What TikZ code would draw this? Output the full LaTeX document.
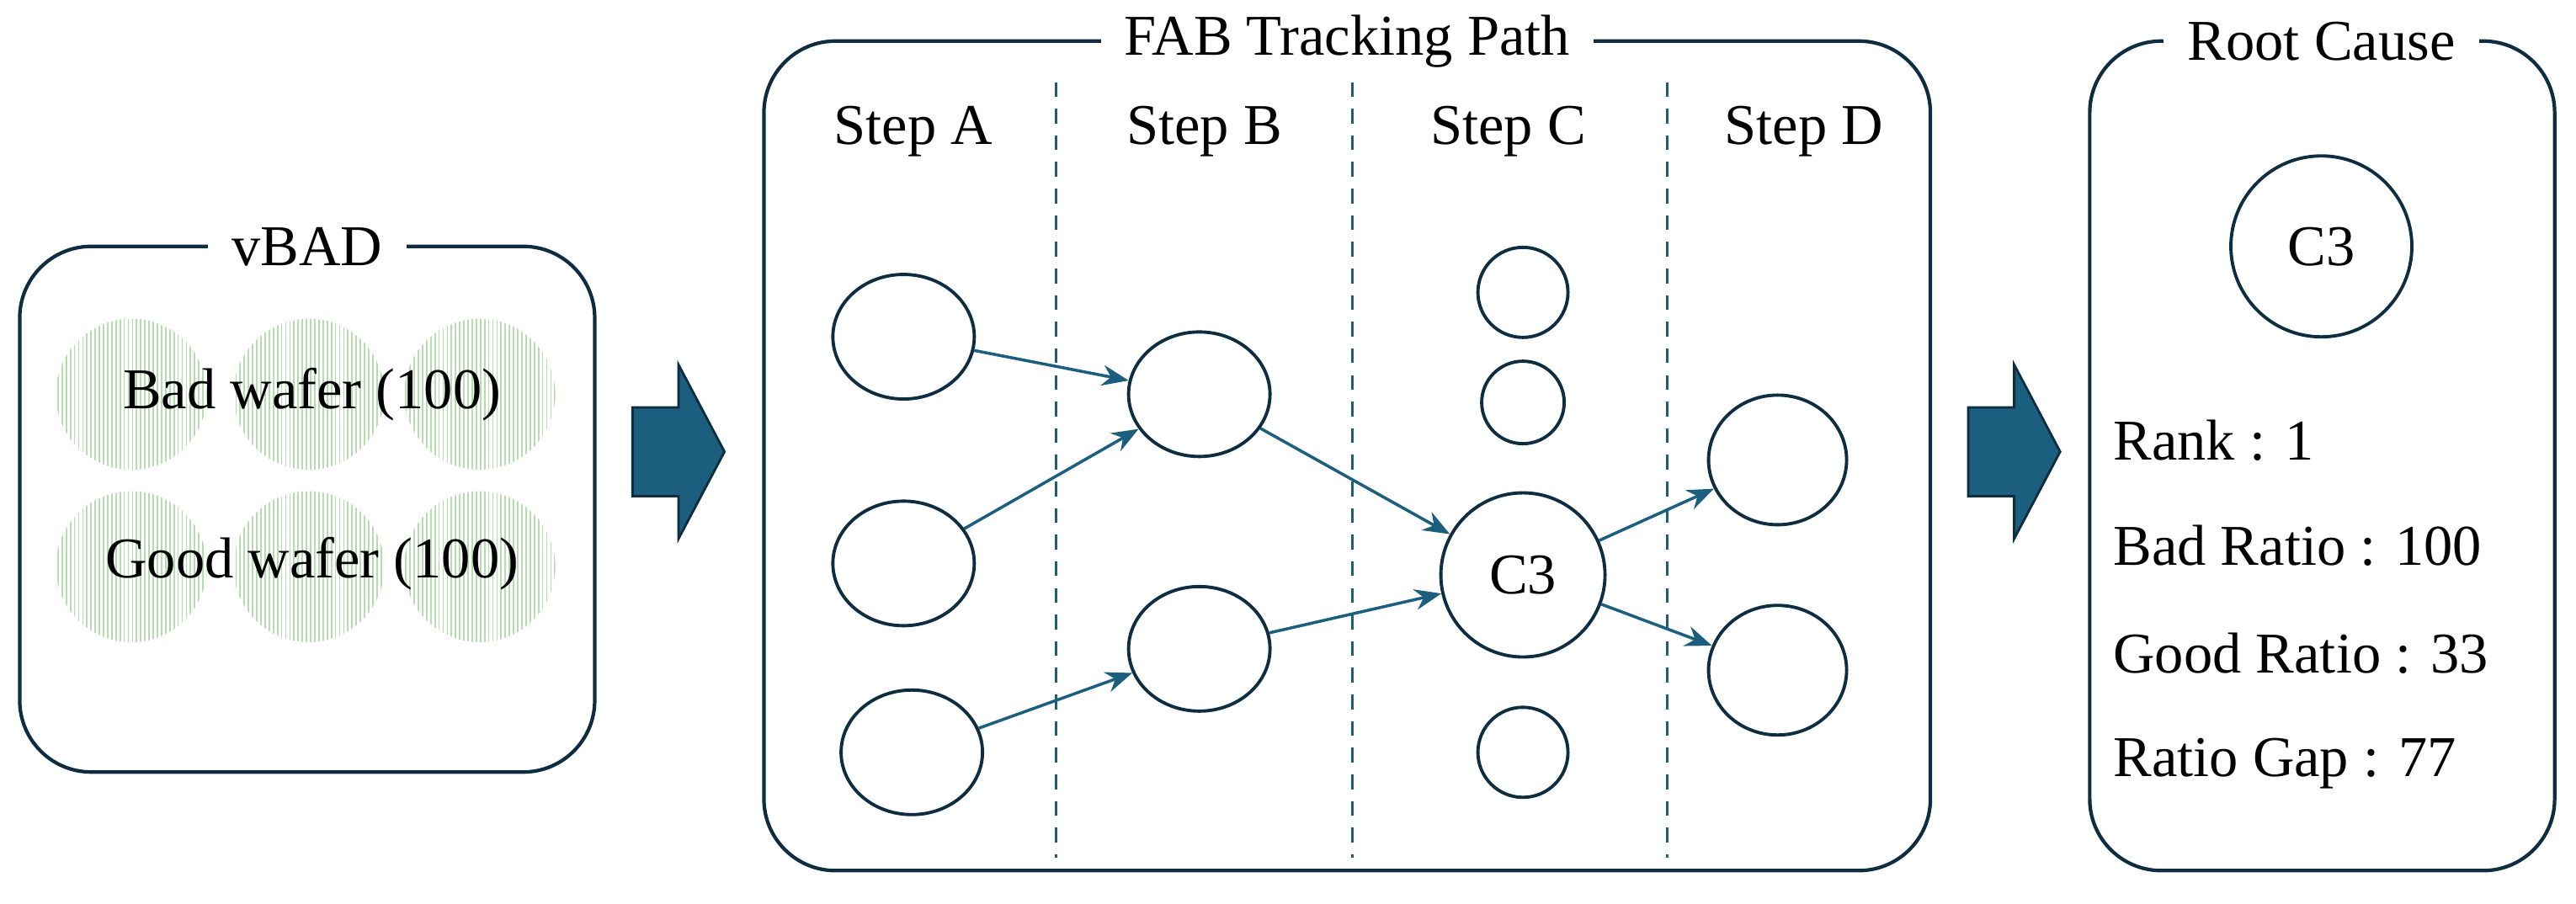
\documentclass[tikz,border=0pt]{standalone}
\usepackage{fontspec}
\setmainfont{Liberation Serif}
\usetikzlibrary{patterns.meta,arrows.meta,shapes.geometric}
\definecolor{navy}{HTML}{0F2D40}
\definecolor{teal}{HTML}{1B5E7E}
\definecolor{wgreen}{HTML}{B5DDB0}
\begin{document}
\begin{tikzpicture}[x=0.019515cm,y=-0.019515cm,
 every node/.style={font=\fontsize{19.5}{23}\selectfont},
 panel/.style={draw=navy,line width=1.2pt,rounded corners=0.85cm},
 ttl/.style={fill=white,inner xsep=8pt},
 st/.style={draw=navy,line width=1.1pt,ellipse,inner sep=0pt,minimum width=1.68cm,minimum height=1.48cm},
 wafer/.style={pattern={Lines[angle=90,distance=1.4pt,line width=0.5pt]},pattern color=wgreen},
 con/.style={-{Stealth[length=9pt,width=7pt]},draw=teal,line width=1pt},
 blk/.style={fill=teal,draw=navy,line width=0.8pt}]
\useasboundingbox (0,0) rectangle (1568,550);
% vBAD
\draw[panel] (12,150) rectangle (362,470);
\node[ttl] (tv) at (187,150) {vBAD};
\foreach \x in {80,188,292}{
 \fill[wafer] (\x,240) circle (46);
 \fill[wafer] (\x,345) circle (46);}
\node (bw) at (190,240) {Bad wafer (100)};
\node (gw) at (190,343) {Good wafer (100)};
% block arrows
\draw[blk] (385,248) -- (413,248) -- (413,222) -- (441,275) -- (413,328) -- (413,302) -- (385,302) -- cycle;
\draw[blk] (1198,248) -- (1226,248) -- (1226,222) -- (1254,275) -- (1226,328) -- (1226,302) -- (1198,302) -- cycle;
% FAB
\draw[panel] (465,25) rectangle (1175,530);
\node[ttl] (tf) at (820,25) {FAB Tracking Path};
\foreach \x in {643,823,1015}\draw[teal,line width=0.9pt,dash pattern=on 5pt off 4pt] (\x,50) -- (\x,522);
\node (sa) at (556,80) {Step A};
\node (sb) at (733,80) {Step B};
\node (sc) at (918,80) {Step C};
\node (sd) at (1098,80) {Step D};
\node[st] (a1) at (550,205) {};
\node[st] (a2) at (550,343) {};
\node[st] (a3) at (555,458) {};
\node[st] (b1) at (730,240) {};
\node[st] (b2) at (730,395) {};
\node[st,circle,minimum size=1.07cm] (c1) at (927,178) {};
\node[st,circle,minimum size=0.98cm] (c2) at (927,245) {};
\node[st,circle,minimum size=1.95cm] (c3) at (927,350) {C3};
\node[st,circle,minimum size=1.07cm] (c4) at (927,458) {};
\node[st,minimum width=1.64cm,minimum height=1.54cm] (d1) at (1082,280) {};
\node[st,minimum width=1.64cm,minimum height=1.54cm] (d2) at (1082,408) {};
\draw[con] (a1) -- (b1);
\draw[con] (a2) -- (b1);
\draw[con] (a3) -- (b2);
\draw[con] (b1) -- (c3);
\draw[con] (b2) -- (c3);
\draw[con] (c3) -- (d1);
\draw[con] (c3) -- (d2);
% Root cause
\draw[panel] (1272,25) rectangle (1555,530);
\node[ttl] (tr) at (1413,25) {Root Cause};
\node[st,circle,minimum size=2.15cm] (rc) at (1413,150) {C3};
\node[anchor=west] (r1) at (1280,268) {Rank : 1};
\node[anchor=west] (r2) at (1280,332) {Bad Ratio : 100};
\node[anchor=west] (r3) at (1280,398) {Good Ratio : 33};
\node[anchor=west] (r4) at (1280,465) {Ratio Gap : 77};
\end{tikzpicture}
\end{document}
